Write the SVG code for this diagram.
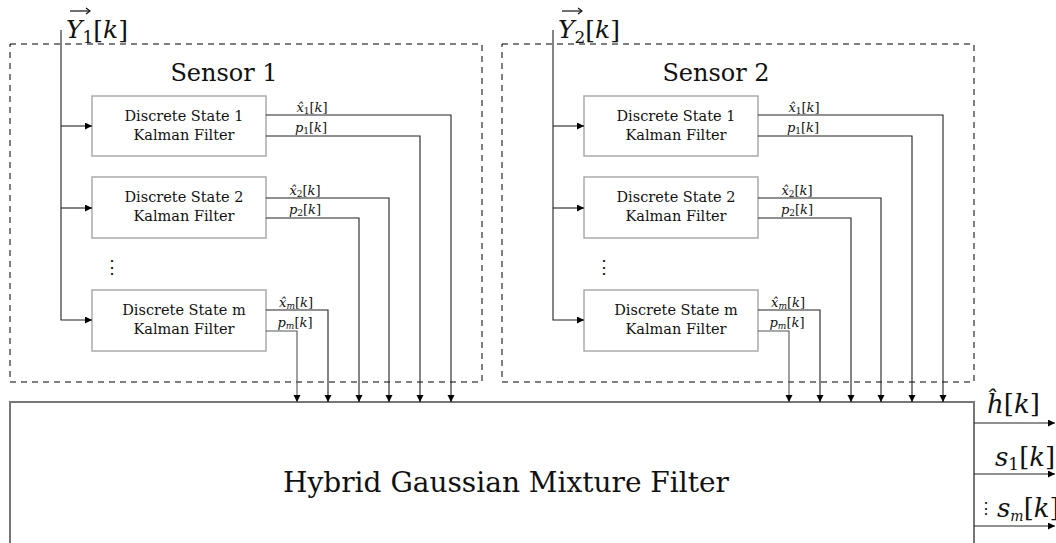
<svg xmlns="http://www.w3.org/2000/svg" width="1056" height="543" viewBox="0 0 1056 543">
<defs>
<style>
.dash{fill:none;stroke:#000;stroke-width:1;stroke-dasharray:6 5}
.kf{fill:#fff;stroke:#aaa;stroke-width:1.5}
.big{fill:#fff;stroke:#777;stroke-width:2}
.c{fill:none;stroke:#222;stroke-width:1.1}
.cg{fill:none;stroke:#555;stroke-width:1.1}
.kt{font-size:14.5px;text-anchor:middle}
.sl{font-size:24px;text-anchor:middle}
.ol{font-size:13px;text-anchor:middle}
.it{font-style:italic}
.yl{font-size:25px}
.rl{font-size:26px}
.hg{font-size:28px;text-anchor:middle}
</style>
<marker id="ah" markerUnits="userSpaceOnUse" markerWidth="8" markerHeight="8" refX="7" refY="3.5" orient="auto">
<path d="M0,0 L7,3.5 L0,7 Z" fill="#000"/>
</marker>
</defs>

<g font-family="'DejaVu Serif', serif" fill="#111">

<g id="hgmf">
<rect class="big" x="10" y="402" width="964" height="170"/>
<text class="hg" x="506" y="492">Hybrid Gaussian Mixture Filter</text>
</g>

<g id="sensor1">
<rect class="dash" x="10" y="44" width="472" height="338"/>
<text class="sl" x="224" y="81">Sensor 1</text>
<text class="yl" x="66" y="38"><tspan class="it">Y</tspan><tspan font-size="17" dy="5">1</tspan><tspan dy="-5">[</tspan><tspan class="it">k</tspan>]</text>
<path d="M70,11 H89" stroke="#111" stroke-width="1.2" fill="none"/>
<path d="M86,8 L90,11 L86,14" stroke="#111" stroke-width="1.2" fill="none"/>
</g>

<g id="s1kf1">
<rect class="kf" x="92" y="96" width="174" height="60"/>
<text class="kt" x="184" y="121">Discrete State 1</text>
<text class="kt" x="184" y="140">Kalman Filter</text>
</g>
<g id="s1kf2">
<rect class="kf" x="92" y="177" width="174" height="61"/>
<text class="kt" x="184" y="202">Discrete State 2</text>
<text class="kt" x="184" y="221">Kalman Filter</text>
</g>
<g id="s1kfm">
<rect class="kf" x="92" y="290" width="174" height="61"/>
<text class="kt" x="184" y="315">Discrete State m</text>
<text class="kt" x="184" y="334">Kalman Filter</text>
</g>
<g id="s1dots"><text x="103" y="273" font-size="18">⋮</text></g>

<g id="sensor2">
<rect class="dash" x="502" y="44" width="472" height="338"/>
<text class="sl" x="716" y="81">Sensor 2</text>
<text class="yl" x="558" y="38"><tspan class="it">Y</tspan><tspan font-size="17" dy="5">2</tspan><tspan dy="-5">[</tspan><tspan class="it">k</tspan>]</text>
<path d="M562,11 H581" stroke="#111" stroke-width="1.2" fill="none"/>
<path d="M578,8 L582,11 L578,14" stroke="#111" stroke-width="1.2" fill="none"/>
</g>

<g id="s2kf1">
<rect class="kf" x="584" y="96" width="174" height="60"/>
<text class="kt" x="676" y="121">Discrete State 1</text>
<text class="kt" x="676" y="140">Kalman Filter</text>
</g>
<g id="s2kf2">
<rect class="kf" x="584" y="177" width="174" height="61"/>
<text class="kt" x="676" y="202">Discrete State 2</text>
<text class="kt" x="676" y="221">Kalman Filter</text>
</g>
<g id="s2kfm">
<rect class="kf" x="584" y="290" width="174" height="61"/>
<text class="kt" x="676" y="315">Discrete State m</text>
<text class="kt" x="676" y="334">Kalman Filter</text>
</g>
<g id="s2dots"><text x="595" y="273" font-size="18">⋮</text></g>

<g id="connectors">
<path class="c" d="M61,30 V320 H92" marker-end="url(#ah)"/>
<path class="c" d="M61,126 H92" marker-end="url(#ah)"/>
<path class="c" d="M61,208 H92" marker-end="url(#ah)"/>
<path class="c" d="M266,115 H451 V402" marker-end="url(#ah)"/>
<path class="c" d="M266,136 H420 V402" marker-end="url(#ah)"/>
<path class="c" d="M266,198 H389 V402" marker-end="url(#ah)"/>
<path class="c" d="M266,218 H359 V402" marker-end="url(#ah)"/>
<path class="c" d="M266,310 H328 V402" marker-end="url(#ah)"/>
<path class="cg" d="M266,331 H297 V402" marker-end="url(#ah)"/>

<path class="c" d="M553,30 V320 H584" marker-end="url(#ah)"/>
<path class="c" d="M553,126 H584" marker-end="url(#ah)"/>
<path class="c" d="M553,208 H584" marker-end="url(#ah)"/>
<path class="c" d="M758,115 H943 V402" marker-end="url(#ah)"/>
<path class="c" d="M758,136 H912 V402" marker-end="url(#ah)"/>
<path class="c" d="M758,198 H881 V402" marker-end="url(#ah)"/>
<path class="c" d="M758,218 H851 V402" marker-end="url(#ah)"/>
<path class="c" d="M758,310 H820 V402" marker-end="url(#ah)"/>
<path class="cg" d="M758,331 H789 V402" marker-end="url(#ah)"/>

<path class="c" d="M974,423 H1055" marker-end="url(#ah)"/>
<path class="c" d="M974,474 H1055" marker-end="url(#ah)"/>
<path class="c" d="M974,526 H1055" marker-end="url(#ah)"/>

<text class="ol" x="312" y="112"><tspan class="it">x̂</tspan><tspan font-size="9" dy="2">1</tspan><tspan dy="-2">[</tspan><tspan class="it">k</tspan>]</text>
<text class="ol" x="311" y="132"><tspan class="it">p</tspan><tspan font-size="9" dy="2">1</tspan><tspan dy="-2">[</tspan><tspan class="it">k</tspan>]</text>
<text class="ol" x="305" y="195"><tspan class="it">x̂</tspan><tspan font-size="9" dy="2">2</tspan><tspan dy="-2">[</tspan><tspan class="it">k</tspan>]</text>
<text class="ol" x="305" y="214"><tspan class="it">p</tspan><tspan font-size="9" dy="2">2</tspan><tspan dy="-2">[</tspan><tspan class="it">k</tspan>]</text>
<text class="ol" x="296" y="307"><tspan class="it">x̂</tspan><tspan class="it" font-size="9" dy="2">m</tspan><tspan dy="-2">[</tspan><tspan class="it">k</tspan>]</text>
<text class="ol" x="295" y="327"><tspan class="it">p</tspan><tspan class="it" font-size="9" dy="2">m</tspan><tspan dy="-2">[</tspan><tspan class="it">k</tspan>]</text>

<text class="ol" x="804" y="112"><tspan class="it">x̂</tspan><tspan font-size="9" dy="2">1</tspan><tspan dy="-2">[</tspan><tspan class="it">k</tspan>]</text>
<text class="ol" x="803" y="132"><tspan class="it">p</tspan><tspan font-size="9" dy="2">1</tspan><tspan dy="-2">[</tspan><tspan class="it">k</tspan>]</text>
<text class="ol" x="797" y="195"><tspan class="it">x̂</tspan><tspan font-size="9" dy="2">2</tspan><tspan dy="-2">[</tspan><tspan class="it">k</tspan>]</text>
<text class="ol" x="797" y="214"><tspan class="it">p</tspan><tspan font-size="9" dy="2">2</tspan><tspan dy="-2">[</tspan><tspan class="it">k</tspan>]</text>
<text class="ol" x="788" y="307"><tspan class="it">x̂</tspan><tspan class="it" font-size="9" dy="2">m</tspan><tspan dy="-2">[</tspan><tspan class="it">k</tspan>]</text>
<text class="ol" x="787" y="327"><tspan class="it">p</tspan><tspan class="it" font-size="9" dy="2">m</tspan><tspan dy="-2">[</tspan><tspan class="it">k</tspan>]</text>

<text class="rl" x="987" y="413"><tspan class="it">ĥ</tspan>[<tspan class="it">k</tspan>]</text>
<text class="rl" x="995" y="466"><tspan class="it">s</tspan><tspan font-size="17" dy="4">1</tspan><tspan dy="-4">[</tspan><tspan class="it">k</tspan>]</text>
<text x="978" y="514" font-size="16">⋮</text>
<text class="rl" x="997" y="517" font-size="21"><tspan class="it">s</tspan><tspan class="it" font-size="14" dy="4">m</tspan><tspan dy="-4">[</tspan><tspan class="it">k</tspan>]</text>
</g>
</g>
</svg>
